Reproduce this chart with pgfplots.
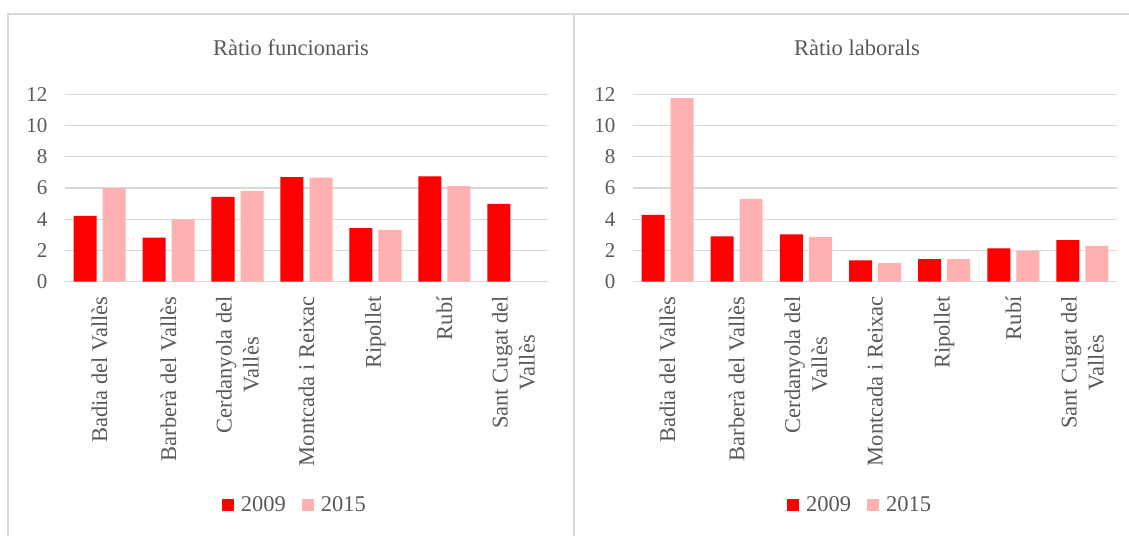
\documentclass[border=0pt]{standalone}
\usepackage{fontspec}
\setmainfont{Liberation Serif}
\usepackage{pgfplots}
\usepackage{pgfplotstable}
\pgfplotsset{compat=1.18}

\definecolor{rojo}{HTML}{FF0000}
\definecolor{rosa}{HTML}{FFB0B0}
\definecolor{gris}{HTML}{D9D9D9}
\definecolor{texto}{HTML}{595959}

% ratio funcionaris
\pgfplotstableread{
x a b
0 4.21 5.99
1 2.82 3.98
2 5.43 5.82
3 6.70 6.67
4 3.42 3.32
5 6.74 6.12
6 4.98 nan
}\funcionaris

% ratio laborals
\pgfplotstableread{
x a b
0 4.28 11.76
1 2.89 5.30
2 3.02 2.87
3 1.35 1.18
4 1.43 1.43
5 2.12 1.97
6 2.65 2.29
}\laborals

\pgfplotsset{
  panell/.style={
    scale only axis,
    anchor=south west,
    height=187pt,
    ybar=6pt,
    bar width=23pt,
    xmin=-0.5, xmax=6.5,
    ymin=0, ymax=12,
    ytick={0,2,...,12},
    xtick={0,...,6},
    xticklabels={Badia del Vallès, Barberà del Vallès, {Cerdanyola del\\Vallès}, Montcada i Reixac, Ripollet, Rubí, {Sant Cugat del\\Vallès}},
    axis line style={draw=none},
    tick style={draw=none},
    ymajorgrids=true,
    major grid style={color=gris, line width=1.2pt},
    /pgf/number format/assume math mode=true,
    yticklabel style={font=\fontsize{21}{24}\selectfont, text=texto, xshift=-14pt},
    xticklabel style={font=\fontsize{22.5}{27}\selectfont, text=texto, rotate=90, anchor=east, align=center, xshift=-7pt},
    legend columns=2,
    legend style={draw=none, fill=none, font=\fontsize{22.5}{26}\selectfont, text=texto,
      /tikz/every even column/.append style={column sep=14pt}},
    legend image code/.code={\fill[##1] (0pt,-6pt) rectangle (12pt,6pt); \path (17pt,0pt);},
  },
}

\begin{document}
\begin{tikzpicture}[x=1pt,y=1pt]
\useasboundingbox (0,0) rectangle (1129,-536);
\draw[gris, line width=1.2pt] (8,-536) -- (8,-14) -- (1129,-14);
\draw[gris, line width=1.2pt] (574,-14) -- (574,-536);

\node[text=texto, font=\fontsize{22.5}{26}\selectfont] at (291,-48) {Ràtio funcionaris};
\node[text=texto, font=\fontsize{22.5}{26}\selectfont] at (857,-48) {Ràtio laborals};

\begin{axis}[panell, at={(65pt,-281.5pt)}, width=483pt,
  legend style={at={(0.476,-1.195)}, anchor=center}]
\addplot[fill=rojo, draw=none] table[x=x, y=a] {\funcionaris};
\addlegendentry{2009}
\addplot[fill=rosa, draw=none] table[x=x, y=b] {\funcionaris};
\addlegendentry{2015}
\end{axis}

\begin{axis}[panell, at={(633pt,-281.5pt)}, width=484pt,
  legend style={at={(0.469,-1.195)}, anchor=center}]
\addplot[fill=rojo, draw=none] table[x=x, y=a] {\laborals};
\addlegendentry{2009}
\addplot[fill=rosa, draw=none] table[x=x, y=b] {\laborals};
\addlegendentry{2015}
\end{axis}
\end{tikzpicture}
\end{document}
